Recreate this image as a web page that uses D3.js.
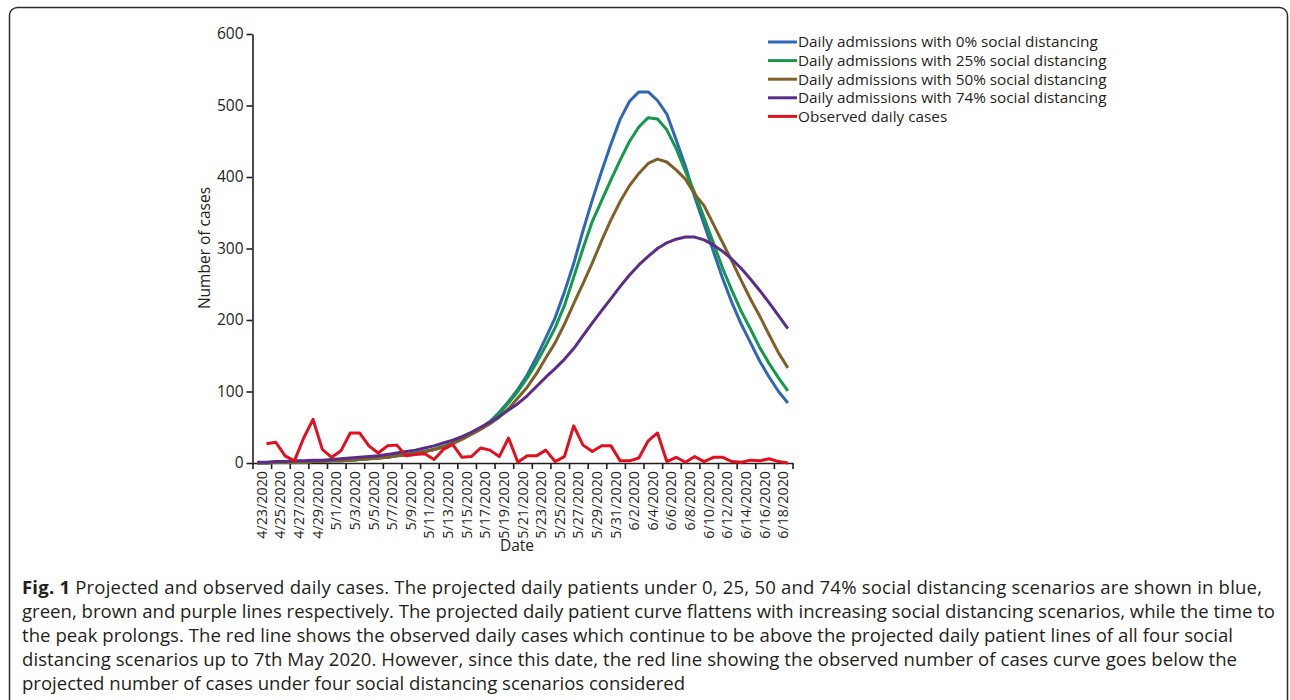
<!DOCTYPE html>
<html>
<head>
<meta charset="utf-8">
<script src="https://cdn.jsdelivr.net/npm/d3@7"></script>
<style>
    body { margin: 0; background: #fff; }
    text { font-family: "Open Sans", sans-serif; fill: #231f20; }
</style>
</head>
<body>
<div id="chart"></div>
<script>
// one entry per day, 4/23 - 6/19
const dates = [
    "4/23/2020", "4/24/2020", "4/25/2020", "4/26/2020", "4/27/2020", "4/28/2020", "4/29/2020", "4/30/2020",
    "5/1/2020", "5/2/2020", "5/3/2020", "5/4/2020", "5/5/2020", "5/6/2020", "5/7/2020", "5/8/2020",
    "5/9/2020", "5/10/2020", "5/11/2020", "5/12/2020", "5/13/2020", "5/14/2020", "5/15/2020", "5/16/2020",
    "5/17/2020", "5/18/2020", "5/19/2020", "5/20/2020", "5/21/2020", "5/22/2020", "5/23/2020", "5/24/2020",
    "5/25/2020", "5/26/2020", "5/27/2020", "5/28/2020", "5/29/2020", "5/30/2020", "5/31/2020", "6/1/2020",
    "6/2/2020", "6/3/2020", "6/4/2020", "6/5/2020", "6/6/2020", "6/7/2020", "6/8/2020", "6/9/2020",
    "6/10/2020", "6/11/2020", "6/12/2020", "6/13/2020", "6/14/2020", "6/15/2020", "6/16/2020", "6/17/2020",
    "6/18/2020", "6/19/2020"
];

const tickLabels = [
    "4/23/2020", "4/25/2020", "4/27/2020", "4/29/2020", "5/1/2020", "5/3/2020", "5/5/2020", "5/7/2020",
    "5/9/2020", "5/11/2020", "5/13/2020", "5/15/2020", "5/17/2020", "5/19/2020", "5/21/2020", "5/23/2020",
    "5/25/2020", "5/27/2020", "5/29/2020", "5/31/2020", "6/2/2020", "6/4/2020", "6/6/2020", "6/8/2020",
    "6/10/2020", "6/12/2020", "6/14/2020", "6/16/2020", "6/18/2020"
];

const yTicks = [0, 100, 200, 300, 400, 500, 600];

const admit0 = [0, 0, 1, 1, 1, 1, 2, 2, 3, 3, 4, 5, 6, 7, 8, 10, 12, 14, 16, 19,
    23, 28, 34, 41, 49, 58, 71, 86, 103, 123, 148, 175, 203, 239, 279, 325, 368, 408, 446, 481,
    506, 519, 519, 507, 488, 452, 415, 372, 334, 296, 258, 224, 194, 168, 142, 120, 100, 84];

const admit25 = [0, 0, 1, 1, 1, 1, 2, 2, 3, 3, 4, 5, 6, 7, 8, 10, 12, 14, 16, 19,
    23, 28, 34, 41, 48, 57, 69, 84, 100, 119, 140, 164, 189, 220, 260, 300, 338, 367, 396, 424,
    450, 470, 483, 481, 466, 440, 408, 378, 343, 308, 272, 241, 212, 187, 161, 139, 119, 101];

const admit50 = [0, 0, 1, 1, 1, 1, 2, 2, 3, 3, 4, 5, 6, 7, 8, 10, 11, 13, 16, 19,
    22, 27, 33, 40, 47, 55, 64, 76, 91, 106, 125, 147, 168, 194, 223, 251, 280, 311, 340, 366,
    388, 405, 419, 425, 421, 410, 397, 376, 360, 334, 308, 282, 255, 229, 205, 179, 154, 133];

const admit74 = [1, 1, 2, 2, 3, 3, 4, 4, 5, 6, 7, 8, 9, 10, 12, 14, 16, 18, 21, 24,
    28, 32, 37, 43, 50, 57, 65, 74, 83, 94, 107, 120, 132, 145, 160, 178, 196, 213, 230, 247,
    263, 277, 289, 300, 308, 313, 316, 316, 312, 305, 296, 285, 272, 257, 241, 224, 206, 188];

const observed = [null, 27, 29, 10, 3, 35, 61, 19, 8, 17, 42, 42, 24, 14, 24, 25, 10, 12, 13, 5,
    19, 26, 8, 9, 21, 18, 9, 35, 1, 10, 10, 18, 2, 9, 52, 25, 16, 24, 24, 3,
    3, 7, 31, 42, 2, 8, 1, 9, 2, 8, 8, 2, 1, 4, 3, 6, 2, 0];

const seriesNames = [
    "Daily admissions with 0% social distancing",
    "Daily admissions with 25% social distancing",
    "Daily admissions with 50% social distancing",
    "Daily admissions with 74% social distancing",
    "Observed daily cases"
];

const captionLines = [
    "Projected and observed daily cases. The projected daily patients under 0, 25, 50 and 74% social distancing scenarios are shown in blue,",
    "green, brown and purple lines respectively. The projected daily patient curve flattens with increasing social distancing scenarios, while the time to",
    "the peak prolongs. The red line shows the observed daily cases which continue to be above the projected daily patient lines of all four social",
    "distancing scenarios up to 7th May 2020. However, since this date, the red line showing the observed number of cases curve goes below the",
    "projected number of cases under four social distancing scenarios considered"
];

const colors = ["#2f67b8", "#129a48", "#80602a", "#5a2d88", "#e2101f"];

class ProjectionVis {

    constructor(parentElement) {
        this.parentElement = parentElement;
        this.series = [admit0, admit25, admit50, admit74, observed];

        this.initVis()
    }

    initVis() {
        let vis = this;

        vis.width = 1290;
        vis.height = 700;
        vis.plot = {left: 252.5, right: 792.5, top: 34, bottom: 463};

        vis.svg = d3.select("#" + vis.parentElement).append("svg")
            .attr("width", vis.width)
            .attr("height", vis.height);

        // figure card
        vis.svg.append("rect")
            .attr("x", 9.5)
            .attr("y", 7.5)
            .attr("width", 1278)
            .attr("height", 760)
            .attr("rx", 8)
            .attr("fill", "none")
            .attr("stroke", "#2b2b2b")
            .attr("stroke-width", 1.5);

        // one slot per day, data sits in the middle of its slot
        vis.x = d3.scaleLinear()
            .domain([0, dates.length])
            .range([vis.plot.left, vis.plot.right]);

        vis.y = d3.scaleLinear()
            .domain([0, 600])
            .range([vis.plot.bottom, vis.plot.top]);

        // y axis
        vis.yAxis = vis.svg.append("g")
            .attr("transform", `translate(${vis.plot.left}, 0)`)
            .style("color", "#231f20")
            .call(d3.axisLeft(vis.y).tickValues(yTicks).tickSize(6).tickSizeOuter(0).tickPadding(3));

        vis.yAxis.selectAll("text").style("font-size", "15.5px");

        // x axis, a tick every second day and the label between two ticks
        vis.xAxis = vis.svg.append("g")
            .attr("transform", `translate(0, ${vis.plot.bottom})`)
            .style("color", "#231f20")
            .call(d3.axisBottom(vis.x).tickValues(d3.range(0, dates.length + 1, 2)).tickSize(6).tickSizeOuter(0).tickFormat(""));

        vis.xAxis.selectAll(".date-label")
            .data(tickLabels)
            .enter()
            .append("text")
            .attr("class", "date-label")
            .attr("transform", d => `translate(${vis.x(dates.indexOf(d) + 1)}, 8) rotate(-90)`)
            .attr("text-anchor", "end")
            .attr("dy", "0.35em")
            .style("font-size", "14.3px")
            .text(d => d);

        vis.svg.selectAll(".domain, .tick line").attr("stroke-width", 1.6);

        // axis titles
        vis.svg.append("text")
            .attr("transform", "translate(205, 248) rotate(-90)")
            .attr("text-anchor", "middle")
            .attr("dy", "0.35em")
            .style("font-size", "15.5px")
            .text("Number of cases");

        vis.svg.append("text")
            .attr("x", 517)
            .attr("y", 546)
            .attr("text-anchor", "middle")
            .attr("dy", "0.35em")
            .style("font-size", "15.5px")
            .text("Date");

        // lines
        vis.line = d3.line()
            .defined(d => d != null)
            .x((d, i) => vis.x(i + 0.5))
            .y(d => vis.y(d));

        vis.svg.selectAll(".series")
            .data(vis.series)
            .enter()
            .append("path")
            .attr("class", "series")
            .attr("d", d => vis.line(d))
            .attr("fill", "none")
            .attr("stroke", (d, i) => colors[i])
            .attr("stroke-width", 3)
            .attr("stroke-linejoin", "round");

        // legend
        let legend = vis.svg.selectAll(".legend-row")
            .data(seriesNames)
            .enter()
            .append("g")
            .attr("class", "legend-row")
            .attr("transform", (d, i) => `translate(768, ${42 + i * 18.6})`);

        legend.append("line")
            .attr("x1", 0)
            .attr("x2", 29)
            .attr("stroke", (d, i) => colors[i])
            .attr("stroke-width", 3);

        legend.append("text")
            .attr("x", 30)
            .attr("dy", "0.35em")
            .style("font-size", "15.3px")
            .text(d => d);

        // caption
        vis.caption = vis.svg.selectAll(".caption")
            .data(captionLines)
            .enter()
            .append("text")
            .attr("class", "caption")
            .attr("x", 22)
            .attr("y", (d, i) => 594 + i * 24)
            .style("font-size", "16px");

        vis.caption.filter((d, i) => i == 0)
            .append("tspan")
            .style("font-weight", "bold")
            .text("Fig. 1 ");

        vis.caption.append("tspan").text(d => d);

        // font size from the longest line, then stretch the full lines to their widths in the figure
        let lineWidths = [1240, 1253, 1211, 1215];
        let longest = vis.caption.filter((d, i) => i == 1).node().getComputedTextLength();
        vis.caption.style("font-size", (16 * lineWidths[1] / longest) + "px");

        vis.caption.filter((d, i) => i < 4)
            .attr("textLength", (d, i) => lineWidths[i])
            .attr("lengthAdjust", "spacing");
    }
}

new ProjectionVis("chart");
</script>
</body>
</html>
